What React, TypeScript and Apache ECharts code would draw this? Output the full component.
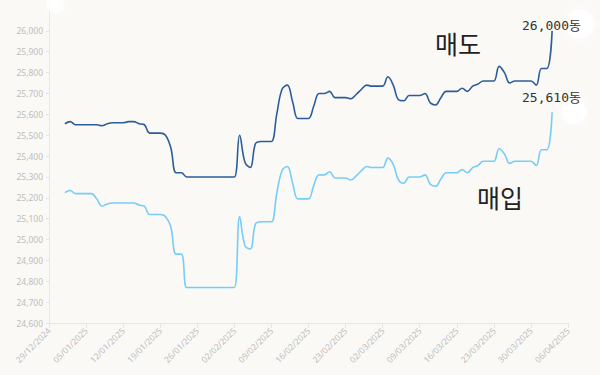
import React, { useEffect, useRef } from "react";
import * as echarts from "echarts";

// Daily categories 29/12/2024 .. 06/04/2025
const startDate = new Date(2024, 11, 29);
const dates: string[] = Array.from({ length: 99 }, (_, i) => {
  const d = new Date(startDate.getTime());
  d.setDate(d.getDate() + i);
  const dd = String(d.getDate()).padStart(2, "0");
  const mm = String(d.getMonth() + 1).padStart(2, "0");
  return `${dd}/${mm}/${d.getFullYear()}`;
});

// values from 01/01/2025 (index 3) to 03/04/2025 (index 95)
const sellValues: (number | null)[] = [
  null, null, null,
  25555, 25565, 25550, 25550, 25550, 25550, 25550, 25545, 25555, 25560,
  25560, 25560, 25565, 25565, 25555, 25550, 25510, 25510, 25510, 25500,
  25440, 25320, 25320, 25300, 25300, 25300, 25300, 25300, 25300, 25300,
  25300, 25300, 25300, 25500, 25370, 25345, 25460, 25470, 25470, 25470,
  25600, 25720, 25740, 25660, 25580, 25580, 25580, 25640, 25700, 25700,
  25710, 25680, 25680, 25680, 25675, 25695, 25720, 25740, 25735, 25735,
  25735, 25780, 25740, 25670, 25665, 25690, 25690, 25690, 25700, 25655,
  25645, 25680, 25710, 25710, 25710, 25725, 25710, 25735, 25745, 25760,
  25760, 25760, 25830, 25800, 25750, 25760, 25760, 25760, 25760, 25740,
  25820, 25820, 26000,
  null, null, null,
];

const buyValues: (number | null)[] = [
  null, null, null,
  25225, 25235, 25220, 25220, 25220, 25220, 25195, 25160, 25170, 25175,
  25175, 25175, 25175, 25175, 25165, 25160, 25120, 25120, 25120, 25110,
  25060, 24930, 24930, 24770, 24770, 24770, 24770, 24770, 24770, 24770,
  24770, 24770, 24770, 25110, 24970, 24955, 25075, 25085, 25085, 25085,
  25220, 25330, 25350, 25270, 25195, 25195, 25195, 25260, 25310, 25310,
  25325, 25295, 25295, 25295, 25285, 25305, 25330, 25350, 25345, 25345,
  25345, 25390, 25360, 25285, 25270, 25300, 25300, 25300, 25310, 25265,
  25255, 25290, 25320, 25320, 25320, 25335, 25320, 25345, 25355, 25375,
  25375, 25375, 25435, 25410, 25365, 25375, 25375, 25375, 25375, 25355,
  25430, 25430, 25610,
  null, null, null,
];

const seriesNames = ["매도", "매입"];
const endLabels = ["26,000동", "25,610동"];

export default function App() {
  const ref = useRef<HTMLDivElement>(null);
  useEffect(() => {
    if (!ref.current) return;
    const chart = echarts.init(ref.current, undefined, { renderer: "svg" });
    const axisLabelStyle = { color: "#bdbdbd", fontSize: 8.5, fontFamily: "Noto Sans" };
    const monoFont = "'DejaVu Sans Mono', 'Noto Sans CJK KR', monospace";
    chart.setOption({
      animation: false,
      backgroundColor: "#faf9f6",
      grid: { left: 49, right: 32, top: 10, bottom: 52, containLabel: false, outerBoundsMode: "none" },
      xAxis: {
        type: "category",
        data: dates,
        boundaryGap: false,
        axisLine: { show: true, lineStyle: { color: "#e6e6e6" } },
        axisTick: { show: true, interval: 6, lineStyle: { color: "#e6e6e6" } },
        axisLabel: { ...axisLabelStyle, interval: 6, rotate: 45, margin: 6 },
        splitLine: { show: false },
      },
      yAxis: {
        type: "value",
        min: 24600,
        max: 26100,
        interval: 100,
        axisLine: { show: true, lineStyle: { color: "#e6e6e6" } },
        axisTick: { show: true, length: 3, lineStyle: { color: "#e6e6e6" } },
        axisLabel: {
          ...axisLabelStyle,
          margin: 6,
          showMaxLabel: false,
          formatter: (v: number) => v.toLocaleString("en-US"),
        },
        splitLine: { show: false },
      },
      series: [
        {
          name: seriesNames[0],
          type: "line",
          data: sellValues,
          smooth: 0.4,
          showSymbol: false,
          lineStyle: { color: "#2c5d9a", width: 1.6 },
          itemStyle: { color: "#2c5d9a" },
        },
        {
          name: seriesNames[1],
          type: "line",
          data: buyValues,
          smooth: 0.4,
          showSymbol: false,
          lineStyle: { color: "#76cdf6", width: 1.6 },
          itemStyle: { color: "#76cdf6" },
        },
      ],
      graphic: [
        { type: "circle", shape: { cx: 580, cy: 24, r: 14 }, style: { fill: "#ffffff", shadowBlur: 10, shadowColor: "#ffffff" }, z: 1 },
        { type: "circle", shape: { cx: 574, cy: 112, r: 12 }, style: { fill: "#ffffff", shadowBlur: 10, shadowColor: "#ffffff" }, z: 1 },
        { type: "circle", shape: { cx: 55, cy: 4, r: 9 }, style: { fill: "#ffffff", opacity: 0.8, shadowBlur: 10, shadowColor: "#ffffff" }, z: 1 },
        { type: "text", x: 522, y: 25, style: { text: endLabels[0], fill: "#333", fontSize: 13, fontFamily: monoFont, verticalAlign: "middle" }, z: 10 },
        { type: "text", x: 522, y: 97.5, style: { text: endLabels[1], fill: "#333", fontSize: 13, fontFamily: monoFont, verticalAlign: "middle" }, z: 10 },
        { type: "text", x: 435, y: 43, style: { text: seriesNames[0], fill: "#222", fontSize: 25, fontFamily: "Noto Sans CJK KR", verticalAlign: "middle" }, z: 10 },
        { type: "text", x: 477, y: 197, style: { text: seriesNames[1], fill: "#222", fontSize: 25, fontFamily: "Noto Sans CJK KR", verticalAlign: "middle" }, z: 10 },
      ],
    });
    return () => chart.dispose();
  }, []);
  return <div ref={ref} style={{ width: 600, height: 375, position: "absolute", left: 0, top: 0 }} />;
}
